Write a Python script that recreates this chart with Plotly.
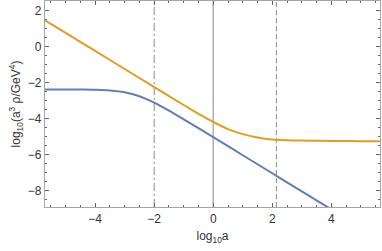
import plotly.graph_objects as go

# data
x_blue = [-5.7, -5, -4.5, -4, -3.5, -3, -2.5, -2, -1.5, -1, -0.5, 0, 0.5, 1, 1.5, 2, 2.5, 3, 3.5, 4]
y_blue = [-2.38, -2.382, -2.386, -2.399, -2.437, -2.54, -2.763, -3.118, -3.56, -4.04, -4.533, -5.03,
          -5.53, -6.03, -6.53, -7.03, -7.53, -8.03, -8.53, -9.03]
x_orange = [-5.7, -5, -4, -3, -2, -1.5, -1, -0.5, 0, 0.5, 1, 1.5, 2, 2.5, 3, 3.5, 4, 4.5, 5, 5.7]
y_orange = [1.45, 0.75, -0.25, -1.25, -2.25, -2.75, -3.245, -3.735, -4.18, -4.58, -4.86, -5.05,
            -5.16, -5.20, -5.22, -5.23, -5.24, -5.245, -5.25, -5.25]
vline_solid = [0]
vline_dashdot = [-2]
vline_dash = [2.14]
x_ticks = [-4, -2, 0, 2, 4]
y_ticks = [2, 0, -2, -4, -6, -8]

BLUE = "#5E81B5"
ORANGE = "#E19C24"
FRAME = "#a6a6a6"
FONT = "Liberation Sans"

fig = go.Figure()
yr = [-8.9, 2.52]
for xv in vline_solid:
    fig.add_trace(go.Scatter(x=[xv, xv], y=yr, mode="lines",
                             line=dict(color="#b3b3b3", width=1.6), hoverinfo="skip"))
for xv in vline_dashdot:
    fig.add_trace(go.Scatter(x=[xv, xv], y=yr, mode="lines",
                             line=dict(color="#8c8c8c", width=1, dash="8px,3px,2px,3px"), hoverinfo="skip"))
for xv in vline_dash:
    fig.add_trace(go.Scatter(x=[xv, xv], y=yr, mode="lines",
                             line=dict(color="#8c8c8c", width=1, dash="5px,3px"), hoverinfo="skip"))

fig.add_trace(go.Scatter(x=x_blue, y=y_blue, mode="lines", line=dict(color=BLUE, width=2, shape="spline")))
fig.add_trace(go.Scatter(x=x_orange, y=y_orange, mode="lines", line=dict(color=ORANGE, width=2, shape="spline")))

axis_common = dict(
    showgrid=False, zeroline=False, showline=True, linecolor=FRAME, linewidth=1.2,
    mirror="ticks", ticks="inside", ticklen=4, tickcolor="#666", tickwidth=1,
    tickfont=dict(family=FONT, size=12, color="#333"),
)
fig.update_xaxes(**axis_common, range=[-5.7, 5.65], tickvals=x_ticks,
                 ticktext=["\u22124", "\u22122", "0", "2", "4"],
                 minor=dict(ticks="inside", ticklen=2, dtick=0.5, tickcolor="#666"),
                 title=dict(text="log<sub>10</sub>a", font=dict(family=FONT, size=12, color="#333"),
                            standoff=7))
fig.update_yaxes(**axis_common, range=[-8.9, 2.52], tickvals=y_ticks,
                 ticktext=["2", "0", "\u22122", "\u22124", "\u22126", "\u22128"],
                 minor=dict(ticks="inside", ticklen=2, dtick=0.5, tickcolor="#666"),
                 title=dict(text="log<sub>10</sub>(a<sup>3</sup> \u03c1/GeV<sup>4</sup>)",
                            font=dict(family=FONT, size=12, color="#333"), standoff=4))
fig.update_layout(width=382, height=251, margin=dict(l=45, r=2, t=1, b=44),
                  paper_bgcolor="white", plot_bgcolor="white", showlegend=False)
fig.write_html("out.html", config={"displayModeBar": False},
               post_script="document.body.style.margin='0';document.body.style.overflow='hidden';")
